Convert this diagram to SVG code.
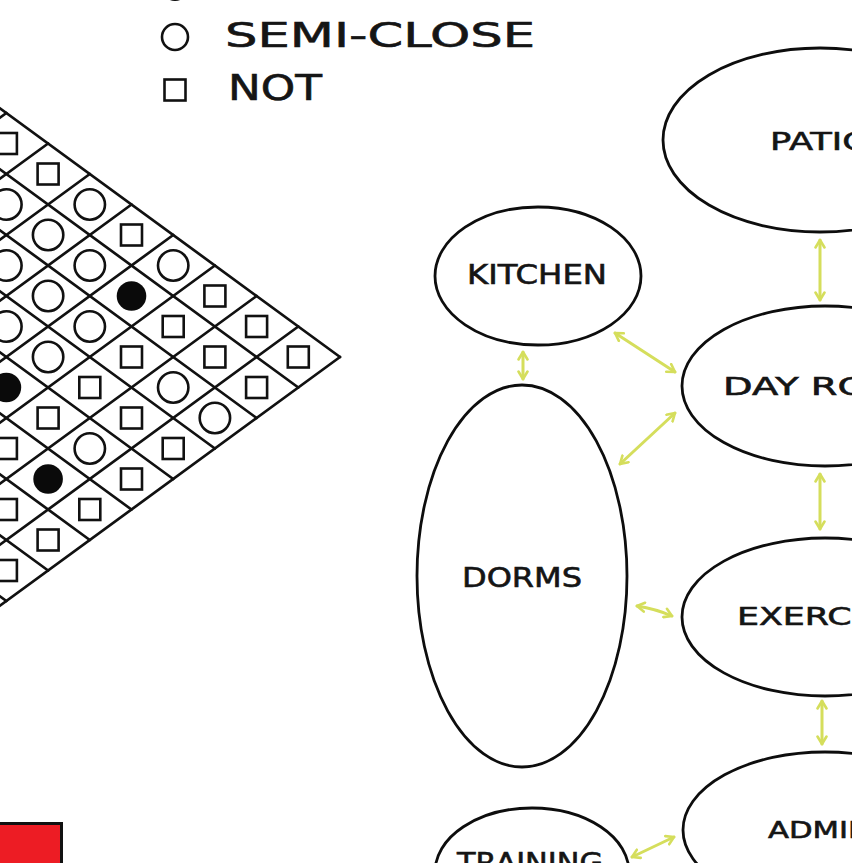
<svg xmlns="http://www.w3.org/2000/svg" xmlns:xlink="http://www.w3.org/1999/xlink" width="852" height="863" viewBox="0 0 852 863">
  <style>
    .grid { stroke: #111; stroke-width: 2.7; fill: none; stroke-linecap: round; }
    .sym { stroke: #111; stroke-width: 2.6; fill: #fff; }
    .dot { fill: #0a0a0a; }
    .node { fill: #fff; stroke: #0d0d0d; stroke-width: 2.8; }
    .lbl { font-family: "DejaVu Sans", "Liberation Sans", sans-serif; fill: #151515; stroke: #151515; stroke-width: 0.6; }
    .conn { stroke: #d5de5c; stroke-width: 3; fill: none; stroke-linecap: round; marker-start: url(#ah); marker-end: url(#ah); }
  </style>
  <defs>
    <marker id="ah" markerWidth="12" markerHeight="12" refX="9" refY="6" orient="auto-start-reverse" markerUnits="userSpaceOnUse">
      <path d="M1.5,1.5 L9,6 L1.5,10.5" fill="none" stroke="#d5de5c" stroke-width="2.6" stroke-linecap="round" stroke-linejoin="round"/>
    </marker>
    <rect id="sq" class="sym" x="-10.5" y="-10.5" width="21" height="21"/>
    <circle id="ci" class="sym" r="15.2"/>
    <circle id="fd" class="dot" r="14.8"/>
  </defs>
  <rect width="852" height="863" fill="#fff"/>

  <!-- legend -->
  <g id="legend">
    <circle class="dot" cx="175" cy="-12.5" r="13.5"/>
    <circle class="sym" cx="175" cy="37" r="13"/>
    <text class="lbl" x="225" y="47" font-size="34" textLength="310" lengthAdjust="spacingAndGlyphs">SEMI-CLOSE</text>
    <rect class="sym" x="164.5" y="79.5" width="21" height="21"/>
    <text class="lbl" x="228" y="100" font-size="35" textLength="94" lengthAdjust="spacingAndGlyphs">NOT</text>
  </g>

  <!-- adjacency matrix -->
  <g id="matrix">
    <g class="grid">
      <line x1="340" y1="357" x2="-20" y2="93.7"/>
      <line x1="298.3" y1="387.5" x2="-20" y2="154.7"/>
      <line x1="256.6" y1="418" x2="-20" y2="215.7"/>
      <line x1="214.9" y1="448.5" x2="-20" y2="276.7"/>
      <line x1="173.2" y1="479" x2="-20" y2="337.7"/>
      <line x1="131.5" y1="509.5" x2="-20" y2="398.7"/>
      <line x1="89.8" y1="540" x2="-20" y2="459.7"/>
      <line x1="48.1" y1="570.5" x2="-20" y2="520.7"/>
      <line x1="6.4" y1="601" x2="-20" y2="581.7"/>
      <line x1="340" y1="357" x2="-20" y2="620.3"/>
      <line x1="298.3" y1="326.5" x2="-20" y2="559.3"/>
      <line x1="256.6" y1="296" x2="-20" y2="498.3"/>
      <line x1="214.9" y1="265.5" x2="-20" y2="437.3"/>
      <line x1="173.2" y1="235" x2="-20" y2="376.3"/>
      <line x1="131.5" y1="204.5" x2="-20" y2="315.3"/>
      <line x1="89.8" y1="174" x2="-20" y2="254.3"/>
      <line x1="48.1" y1="143.5" x2="-20" y2="193.3"/>
      <line x1="6.4" y1="113" x2="-20" y2="132.3"/>
    </g>
    <g id="cells">
      <use xlink:href="#sq" x="298.3" y="357"/>
      <use xlink:href="#sq" x="256.6" y="326.5"/>
      <use xlink:href="#sq" x="256.6" y="387.5"/>
      <use xlink:href="#sq" x="214.9" y="296"/>
      <use xlink:href="#sq" x="214.9" y="357"/>
      <use xlink:href="#ci" x="214.9" y="418"/>
      <use xlink:href="#ci" x="173.2" y="265.5"/>
      <use xlink:href="#sq" x="173.2" y="326.5"/>
      <use xlink:href="#ci" x="173.2" y="387.5"/>
      <use xlink:href="#sq" x="173.2" y="448.5"/>
      <use xlink:href="#sq" x="131.5" y="235"/>
      <use xlink:href="#fd" x="131.5" y="296"/>
      <use xlink:href="#sq" x="131.5" y="357"/>
      <use xlink:href="#sq" x="131.5" y="418"/>
      <use xlink:href="#sq" x="131.5" y="479"/>
      <use xlink:href="#ci" x="89.8" y="204.5"/>
      <use xlink:href="#ci" x="89.8" y="265.5"/>
      <use xlink:href="#ci" x="89.8" y="326.5"/>
      <use xlink:href="#sq" x="89.8" y="387.5"/>
      <use xlink:href="#ci" x="89.8" y="448.5"/>
      <use xlink:href="#sq" x="89.8" y="509.5"/>
      <use xlink:href="#sq" x="48.1" y="174"/>
      <use xlink:href="#ci" x="48.1" y="235"/>
      <use xlink:href="#ci" x="48.1" y="296"/>
      <use xlink:href="#ci" x="48.1" y="357"/>
      <use xlink:href="#sq" x="48.1" y="418"/>
      <use xlink:href="#fd" x="48.1" y="479"/>
      <use xlink:href="#sq" x="48.1" y="540"/>
      <use xlink:href="#sq" x="6.4" y="143.5"/>
      <use xlink:href="#ci" x="6.4" y="204.5"/>
      <use xlink:href="#ci" x="6.4" y="265.5"/>
      <use xlink:href="#ci" x="6.4" y="326.5"/>
      <use xlink:href="#fd" x="6.4" y="387.5"/>
      <use xlink:href="#sq" x="6.4" y="448.5"/>
      <use xlink:href="#sq" x="6.4" y="509.5"/>
      <use xlink:href="#sq" x="6.4" y="570.5"/>
    </g>
  </g>

  <!-- red box -->
  <rect id="red-box" x="-4" y="823.5" width="65.5" height="50" fill="#ed1c24" stroke="#111" stroke-width="3"/>

  <!-- connectors -->
  <g id="connectors">
    <line class="conn" x1="820" y1="240" x2="820" y2="300"/>
    <line class="conn" x1="820" y1="474" x2="820" y2="529"/>
    <line class="conn" x1="822" y1="701" x2="822" y2="744"/>
    <line class="conn" x1="523" y1="352" x2="523" y2="379"/>
    <line class="conn" x1="615" y1="333" x2="675" y2="372"/>
    <line class="conn" x1="620" y1="464" x2="675" y2="413"/>
    <path class="conn" d="M637,606 Q656,609 672,616"/>
    <line class="conn" x1="632" y1="857" x2="674" y2="837"/>
  </g>

  <!-- nodes -->
  <g id="patio">
    <ellipse class="node" cx="820" cy="140" rx="157" ry="92"/>
    <text class="lbl" x="770" y="150" font-size="25" textLength="100" lengthAdjust="spacingAndGlyphs">PATIO</text>
  </g>
  <g id="kitchen">
    <ellipse class="node" cx="538" cy="276" rx="103" ry="69"/>
    <text class="lbl" x="467" y="284" font-size="26" textLength="140" lengthAdjust="spacingAndGlyphs">KITCHEN</text>
  </g>
  <g id="day-room">
    <ellipse class="node" cx="825" cy="386" rx="143" ry="80"/>
    <text class="lbl" x="723" y="395" font-size="24" textLength="208" lengthAdjust="spacingAndGlyphs">DAY ROOM</text>
  </g>
  <g id="dorms">
    <ellipse class="node" cx="522" cy="576" rx="105" ry="191"/>
    <text class="lbl" x="462" y="587" font-size="27" textLength="120" lengthAdjust="spacingAndGlyphs">DORMS</text>
  </g>
  <g id="exercise">
    <ellipse class="node" cx="825" cy="617" rx="143" ry="79"/>
    <text class="lbl" x="737" y="625" font-size="25" textLength="169" lengthAdjust="spacingAndGlyphs">EXERCISE</text>
  </g>
  <g id="admin">
    <ellipse class="node" cx="825" cy="830" rx="142" ry="78"/>
    <text class="lbl" x="768" y="838" font-size="23" textLength="103" lengthAdjust="spacingAndGlyphs">ADMIN</text>
  </g>
  <g id="training">
    <ellipse class="node" cx="532" cy="872" rx="97" ry="64"/>
    <text class="lbl" x="457" y="872" font-size="26" textLength="146" lengthAdjust="spacingAndGlyphs">TRAINING</text>
  </g>
</svg>
